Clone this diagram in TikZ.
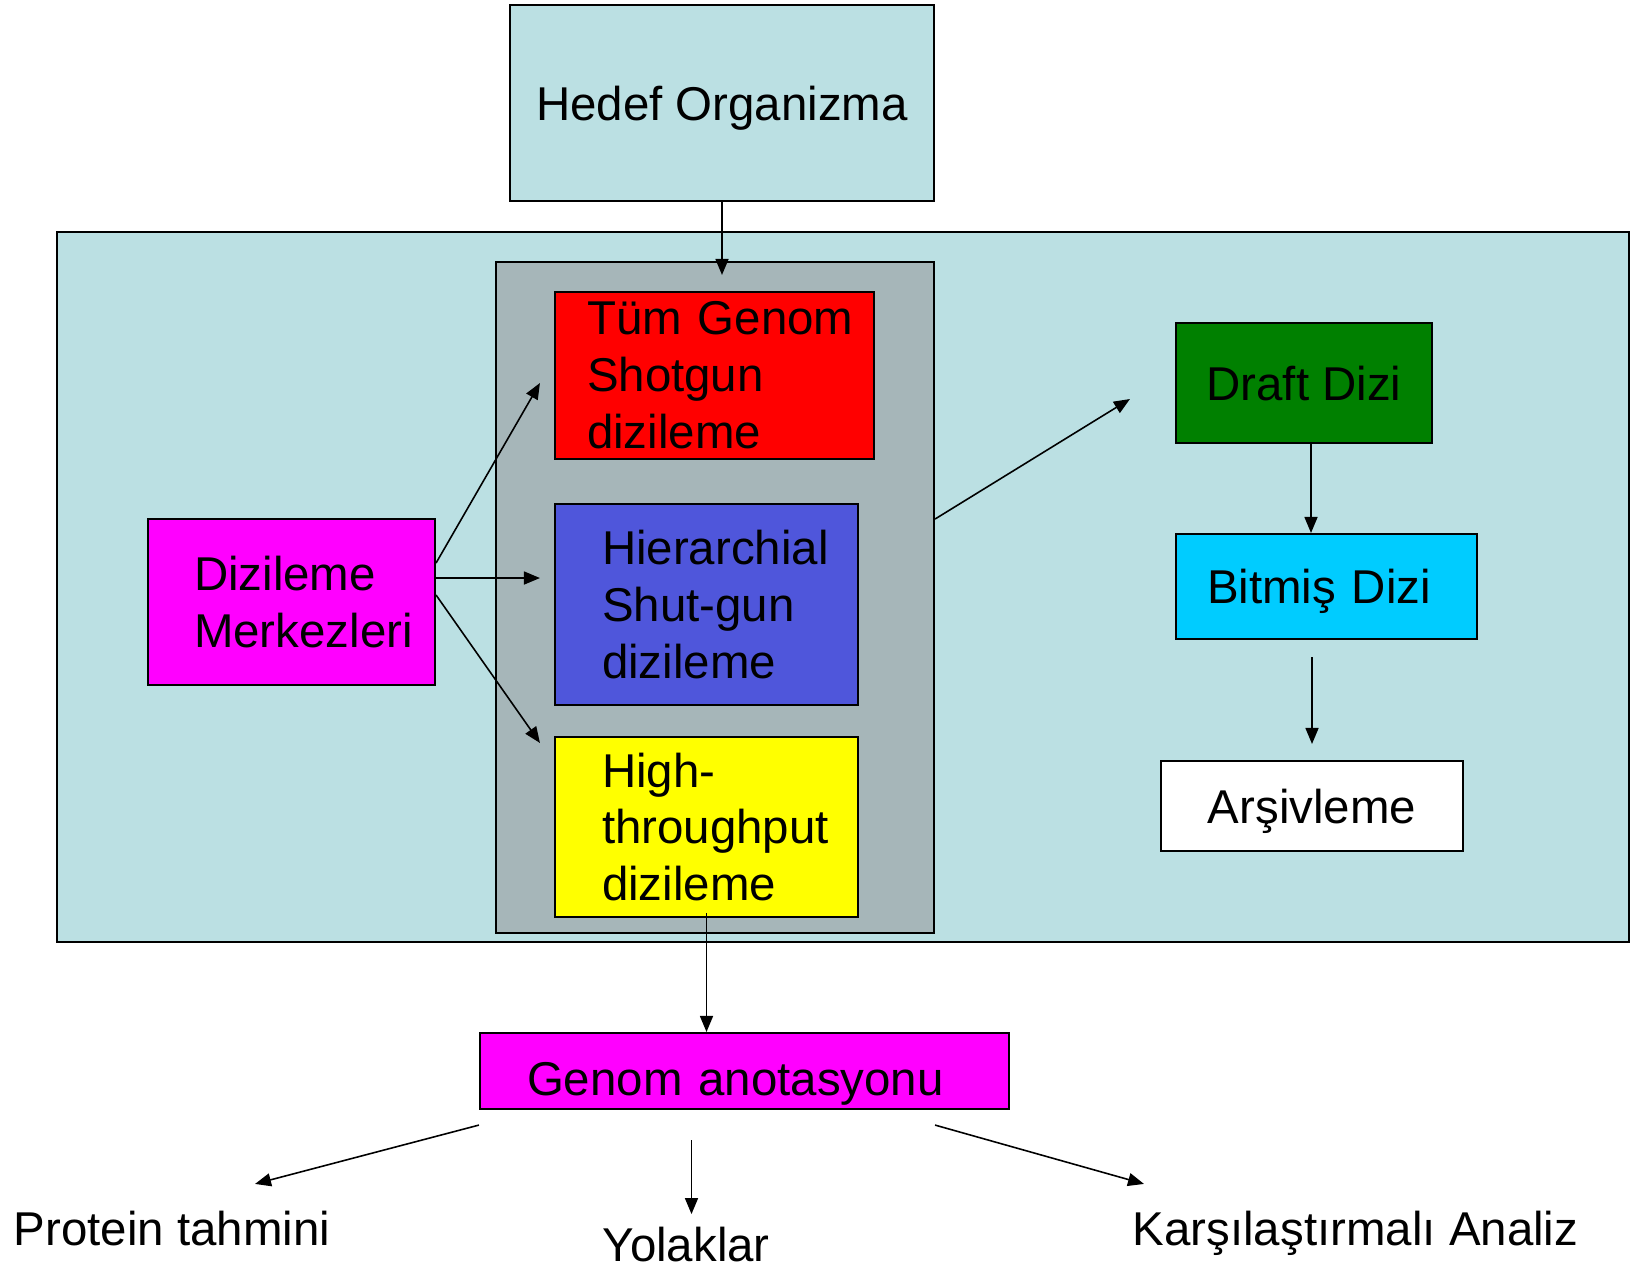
\documentclass[tikz,border=0pt]{standalone}
\usepackage{fontspec}
\setmainfont{Liberation Sans}
\usetikzlibrary{calc,arrows.meta}
\definecolor{panelblue}{RGB}{187,224,227}
\definecolor{grpgray}{RGB}{166,182,185}
\definecolor{wgsred}{RGB}{255,0,0}
\definecolor{hierblue}{RGB}{79,86,219}
\definecolor{htpyellow}{RGB}{255,255,0}
\definecolor{dzmagenta}{RGB}{255,0,255}
\definecolor{draftgreen}{RGB}{0,128,0}
\definecolor{bitcyan}{RGB}{0,204,255}
\tikzset{
  kutu/.style={draw=black, line width=0.6pt, inner sep=0pt, align=left,
    font=\fontsize{13.5}{16.2}\selectfont},
  tekkutu/.style={kutu, text depth=0pt},
  etiket/.style={inner sep=0pt, anchor=base west, font=\fontsize{13.5}{16.2}\selectfont},
  ok/.style={-{Triangle[length=1.6mm,width=1.3mm]}, line width=0.45pt}
}

\begin{document}
\begin{tikzpicture}
			%%%%% START %%%%%
			\useasboundingbox (0,0) rectangle (16.43,-12.66);
			
			\node[tekkutu, fill=panelblue, minimum width=4.24cm, minimum height=1.96cm] (hedef) at (7.22,-1.03) {Hedef Organizma};
			
			\draw[line width=0.6pt, fill=panelblue] (0.57,-2.32) rectangle (16.29,-9.42);
			
			\node[kutu, fill=grpgray, minimum width=4.38cm, minimum height=6.71cm] (grp) at (7.15,-5.975) {};
			\node[kutu, fill=wgsred, text width=2.55cm, minimum width=3.19cm, minimum height=1.67cm] (wgs) at (7.145,-3.755) {Tüm~Genom\\Shotgun\\dizileme};
			\node[kutu, fill=hierblue, text width=2.09cm, minimum width=3.03cm, minimum height=2.01cm] (hier) at (7.065,-6.045) {Hierarchial\\Shut-gun\\dizileme};
			\node[kutu, fill=htpyellow, text width=2.09cm, minimum width=3.03cm, minimum height=1.80cm] (htp) at (7.065,-8.27) {High-\\throughput\\dizileme};
			
			\node[kutu, fill=dzmagenta, text width=1.95cm, minimum width=2.87cm, minimum height=1.66cm] (dz) at (2.915,-6.02) {Dizileme\\Merkezleri};
			
			\node[tekkutu, fill=draftgreen, minimum width=2.56cm, minimum height=1.20cm] (draft) at (13.04,-3.83) {Draft Dizi};
			\node[tekkutu, fill=bitcyan, text width=2.39cm, minimum width=3.01cm, minimum height=1.05cm] (bitmis) at (13.265,-5.865) {Bitmiş Dizi};
			\node[tekkutu, fill=white, minimum width=3.02cm, minimum height=0.90cm] (arsiv) at (13.12,-8.06) {Arşivleme};
			
			\node[tekkutu, fill=dzmagenta, text width=4.35cm, text height=0.48cm, minimum width=5.29cm, minimum height=0.76cm] (anot) at (7.445,-10.71) {Genom anotasyonu};
			
			\node[etiket] (prot) at (0.13,-12.45) {Protein tahmini};
			\node[etiket] (yol) at (6.02,-12.61) {Yolaklar};
			\node[etiket] (karsi) at (11.32,-12.45) {Karşılaştırmalı Analiz};
			
			% arrows
			\draw[ok] (hedef.south) -- ([yshift=1.6mm]hedef.south |- wgs.north);
			\draw[ok] ([yshift=3.9mm]dz.east) -- ([xshift=-1.4mm,yshift=-0.75mm]wgs.west);
			\draw[ok] ([yshift=2.4mm]dz.east) -- ([xshift=-1.4mm,yshift=2.65mm]hier.west);
			\draw[ok] ([yshift=0.7mm]dz.east) -- ([xshift=-1.4mm,yshift=-0.7mm]htp.north west);
			\draw[ok] ([yshift=7.85mm]grp.east) -- ([xshift=-4.5mm,yshift=-1.6mm]draft.west);
			\draw[ok] ([xshift=0.7mm]draft.south) -- ([xshift=0.7mm]draft.south |- bitmis.north);
			\draw[ok, shorten <=1.7mm, shorten >=1.6mm] (arsiv.north |- bitmis.south) -- (arsiv.north);
			\draw[ok] ([yshift=0.5mm]htp.south) -- (htp.south |- anot.north);
			
			\draw[ok] ([yshift=-1.5mm]anot.south west) -- ([xshift=2.42cm,yshift=2.6mm]prot.north west);
			\draw[ok] ([xshift=-5.3mm,yshift=-3mm]anot.south) -- ([xshift=-5.3mm,yshift=-10.4mm]anot.south);
			\draw[ok] ([xshift=-7.5mm,yshift=-1.5mm]anot.south east) -- ([xshift=0.12cm,yshift=2.6mm]karsi.north west);
			%%%%% END %%%%%
		\end{tikzpicture}
\end{document}
